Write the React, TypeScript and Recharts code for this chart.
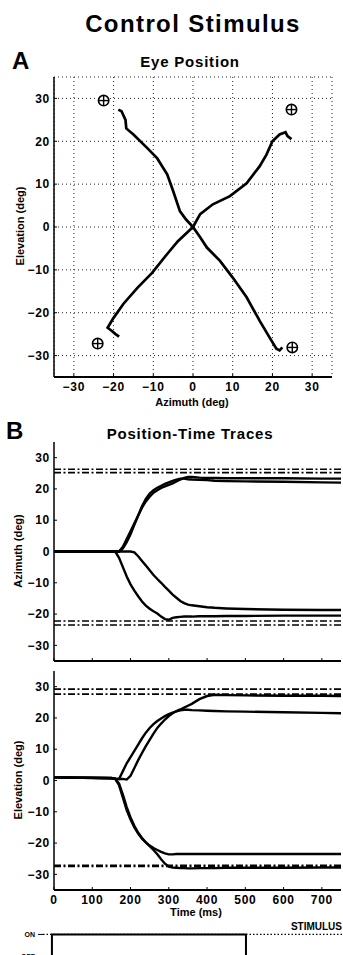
import React from "react";
import { ComposedChart, LineChart, Line, Scatter, XAxis, YAxis, CartesianGrid, ReferenceLine } from "recharts";

const FONT = '"Liberation Sans", Arial, Helvetica, sans-serif';

// Panel A: eye trajectories, azimuth (x) / elevation (y) in deg
const upLeftX = [0, -1.8, -3.3, -5, -6.5, -9, -11.5, -15, -16.8, -17, -18, -18.8];
const upLeftY = [0, 1.8, 3.7, 8.4, 12.3, 16, 18.4, 21.6, 23, 25, 27, 27.4];
const downRightX = [0, 1.8, 3.5, 6.8, 10, 13.5, 16.8, 19.3, 21, 21.8, 22.5];
const downRightY = [0, -2.4, -4.8, -7.9, -11.8, -16.4, -21.9, -25.8, -28.4, -28.8, -28.1];
const upRightX = [0, 1.8, 5, 9.3, 13.5, 16.8, 18.5, 20, 21.8, 23.3, 23.8, 24.8];
const upRightY = [0, 3, 5.3, 7.2, 10.2, 14.2, 16.9, 20, 21.6, 22.1, 21.2, 20.5];
const downLeftX = [0, -3.8, -6.5, -10.3, -14, -17.5, -20, -21.5, -20.5, -19.5, -18.6];
const downLeftY = [0, -3.3, -6.3, -10.7, -14.2, -17.9, -21.2, -23.5, -24.2, -25, -25.6];
const targetX = [-22.5, 24.8, -24, 25];
const targetY = [29.5, 27.4, -27.2, -28.1];
const posTicks = [-30, -20, -10, 0, 10, 20, 30];

// Panel B: position-time traces
const timeMs = [0, 150, 160, 170, 180, 190, 200, 210, 220, 230, 240, 250, 260, 270, 280, 290, 300, 310, 320, 330, 340, 350, 360, 380, 400, 420, 450, 500, 600, 700, 750];
const azUpA = [0, 0, 0, 0, 1.5, 4, 6.5, 9, 11.5, 14, 16, 17.5, 18.8, 19.6, 20.3, 20.8, 21.3, 21.8, 22.4, 23, 23.5, 23.8, 23.8, 23.6, 23.5, 23.5, 23.4, 23.4, 23.4, 23.3, 23.3];
const azUpB = [0, 0, 0, 0, 1, 3, 5.5, 8.5, 11.5, 14.5, 16.8, 18.5, 19.6, 20.4, 21, 21.6, 22.1, 22.6, 23, 23.3, 23.3, 23.1, 23, 22.9, 22.8, 22.6, 22.5, 22.4, 22.3, 22.1, 22];
const azDownA = [0, 0, 0, -2, -5, -8, -10.5, -12.5, -14.3, -16, -17.3, -18.3, -19.1, -19.8, -20.8, -21.6, -21.8, -21.2, -21, -20.9, -20.8, -20.8, -20.8, -20.7, -20.7, -20.7, -20.6, -20.6, -20.5, -20.5, -20.5];
const azDownB = [0, 0, 0, 0, 0, 0, 0, -0.3, -1.5, -3, -4.5, -6, -7.5, -8.8, -10, -11.3, -12.5, -13.8, -14.8, -15.8, -16.5, -17, -17.2, -17.5, -17.8, -18, -18.2, -18.4, -18.6, -18.7, -18.7];
const elUpA = [1, 0.8, 0.6, 0.5, 3, 5.5, 7.5, 9.5, 11.5, 13.5, 15.3, 16.8, 18, 19, 19.8, 20.6, 21.2, 21.7, 22.1, 22.4, 22.6, 22.6, 22.5, 22.4, 22.3, 22.2, 22.1, 22, 21.8, 21.6, 21.5];
const elUpB = [1, 0.8, 0.6, 0.5, 0.5, 0.3, 1.5, 4, 6.5, 8.8, 11, 13, 15, 16.8, 18.2, 19.5, 20.6, 21.5, 22.2, 22.7, 23.3, 23.9, 24.5, 26, 27, 27.4, 27.3, 27.2, 27.1, 27.1, 27];
const elDownA = [1, 0.7, 0.5, -1.5, -5.5, -9.5, -12.5, -15, -17, -18.6, -19.8, -20.8, -21.6, -22.2, -22.8, -23.3, -23.6, -23.6, -23.5, -23.5, -23.5, -23.5, -23.5, -23.5, -23.5, -23.5, -23.5, -23.5, -23.5, -23.5, -23.5];
const elDownB = [1, 0.7, 0.5, -1, -4.5, -8.5, -11.8, -14.5, -16.7, -18.4, -19.8, -21, -22.2, -23.6, -25.2, -26.6, -27.5, -27.8, -27.9, -28, -28, -28.1, -28.1, -28, -28, -28, -27.9, -27.9, -27.9, -27.8, -27.8];
const azTargets = [26.3, 25.2, -22.2, -23.5];
const elTargets = [29.2, 27.6, -27.1, -27.5];
const timeTicks = [0, 100, 200, 300, 400, 500, 600, 700];

// Stimulus on/off
const stimTime = [0, 0, 500, 500, 750];
const stimLevel = [0, 1, 1, 0, 0];

const pairs = (xs: number[], ys: number[]) => xs.map((x, i) => ({ x, y: ys[i] }));
const trajectories = [pairs(upLeftX, upLeftY), pairs(downRightX, downRightY), pairs(upRightX, upRightY), pairs(downLeftX, downLeftY)];
const targets = pairs(targetX, targetY);
const azRows = timeMs.map((t, i) => ({ t, a: azUpA[i], b: azUpB[i], c: azDownA[i], d: azDownB[i] }));
const elRows = timeMs.map((t, i) => ({ t, a: elUpA[i], b: elUpB[i], c: elDownA[i], d: elDownB[i] }));
const stimRows = stimTime.map((t, i) => ({ t, s: stimLevel[i] }));

const minus = (v: number) => String(v).replace("-", "\u2212");
const tickStyle = { fontSize: 12, fontWeight: 700, fill: "#000", fontFamily: FONT, letterSpacing: 0.7 };
const dashDot = "7 2.5 2 2.5";

const Target = (props: any) => {
  const { cx, cy } = props;
  return (
    <g>
      <circle cx={cx} cy={cy} r={5.2} fill="#fff" stroke="#000" strokeWidth={1.6} />
      <line x1={cx - 5} x2={cx + 5} y1={cy} y2={cy} stroke="#000" strokeWidth={1.4} />
      <line x1={cx} x2={cx} y1={cy - 5} y2={cy + 5} stroke="#000" strokeWidth={1.4} />
    </g>
  );
};

const Txt = ({ x, y, size, children, rotate, align, spacing }: any) => (
  <div
    style={{
      position: "absolute",
      left: x,
      top: y,
      fontSize: size,
      fontWeight: 700,
      lineHeight: 1,
      letterSpacing: spacing || 0,
      whiteSpace: "nowrap",
      transform: `translate(${align === "right" ? "-100%" : align === "left" ? "0" : "-50%"}, -50%)${rotate ? " rotate(-90deg)" : ""}`,
    }}
  >
    {children}
  </div>
);

const App = () => {
  return (
    <div style={{ position: "absolute", left: 0, top: 0, width: 343, height: 955, overflow: "hidden", background: "#fff", fontFamily: FONT, color: "#000" }}>
      <Txt x={193} y={24} size={24} spacing={1.4}>Control Stimulus</Txt>
      <Txt x={12} y={61} size={24} align="left">A</Txt>
      <Txt x={190} y={61} size={15} spacing={0.8}>Eye Position</Txt>

      <div style={{ position: "absolute", left: 0, top: 72 }}>
        <ComposedChart width={343} height={335} margin={{ top: 5, right: 11, bottom: 0, left: 0 }}>
          <CartesianGrid stroke="#222" strokeDasharray="1 3" />
          <XAxis type="number" dataKey="x" domain={[-35, 35]} ticks={posTicks} tickFormatter={minus} height={30}
            tickSize={-3} tickMargin={8} tick={tickStyle} axisLine={{ stroke: "#000", strokeWidth: 2 }} tickLine={{ stroke: "#000" }} allowDataOverflow />
          <XAxis xAxisId="top" orientation="top" type="number" domain={[-35, 35]} ticks={posTicks} height={0}
            tickSize={-3} tickFormatter={() => ""} axisLine={{ stroke: "#000", strokeWidth: 1.5 }} tickLine={{ stroke: "#000" }} />
          <YAxis type="number" dataKey="y" domain={[-35, 35]} ticks={posTicks} tickFormatter={minus} width={54}
            tickSize={-3} tickMargin={7} tick={tickStyle} axisLine={{ stroke: "#000", strokeWidth: 1.5 }} tickLine={{ stroke: "#000" }} allowDataOverflow />
          <YAxis yAxisId="right" orientation="right" type="number" domain={[-35, 35]} ticks={posTicks} width={0}
            tickSize={-3} tickFormatter={() => ""} axisLine={{ stroke: "#000", strokeWidth: 2 }} tickLine={{ stroke: "#000" }} />
          {trajectories.map((tr, i) => (
            <Line key={i} data={tr} dataKey="y" type="linear" stroke="#000" strokeWidth={2.7} dot={false} isAnimationActive={false} />
          ))}
          <Scatter data={targets} shape={<Target />} isAnimationActive={false} />
        </ComposedChart>
      </div>
      <Txt x={192} y={402} size={11}>Azimuth (deg)</Txt>
      <Txt x={20} y={226} size={11} rotate>Elevation (deg)</Txt>

      <Txt x={6} y={431} size={24} align="left">B</Txt>
      <Txt x={190} y={433} size={15} spacing={0.8}>Position-Time Traces</Txt>

      <div style={{ position: "absolute", left: 0, top: 437 }}>
        <LineChart width={343} height={229} data={azRows} margin={{ top: 5, right: 2, bottom: 0, left: 0 }}>
          <XAxis type="number" dataKey="t" domain={[0, 750]} ticks={timeTicks} height={5} tickSize={-3} tickFormatter={() => ""}
            axisLine={{ stroke: "#000", strokeWidth: 2 }} tickLine={{ stroke: "#000" }} />
          <YAxis type="number" domain={[-35, 35]} ticks={posTicks} tickFormatter={minus} width={54} tickSize={-3} tickMargin={7}
            tick={tickStyle} axisLine={{ stroke: "#000", strokeWidth: 1.5 }} tickLine={{ stroke: "#000" }} />
          {azTargets.map((v) => (
            <ReferenceLine key={v} y={v} stroke="#000" strokeWidth={1.6} strokeDasharray={dashDot} />
          ))}
          {["a", "b", "c", "d"].map((k) => (
            <Line key={k} dataKey={k} type="linear" stroke="#000" strokeWidth={2.4} dot={false} isAnimationActive={false} />
          ))}
        </LineChart>
      </div>
      <Txt x={18} y={551} size={11} rotate>Azimuth (deg)</Txt>

      <div style={{ position: "absolute", left: 0, top: 666 }}>
        <LineChart width={343} height={249} data={elRows} margin={{ top: 5, right: 2, bottom: 0, left: 0 }}>
          <XAxis type="number" dataKey="t" domain={[0, 750]} ticks={timeTicks} height={25} tickSize={-3} tickMargin={8}
            tick={tickStyle} axisLine={{ stroke: "#000", strokeWidth: 2 }} tickLine={{ stroke: "#000" }} />
          <YAxis type="number" domain={[-35, 35]} ticks={posTicks} tickFormatter={minus} width={54} tickSize={-3} tickMargin={7}
            tick={tickStyle} axisLine={{ stroke: "#000", strokeWidth: 1.5 }} tickLine={{ stroke: "#000" }} />
          {elTargets.map((v) => (
            <ReferenceLine key={v} y={v} stroke="#000" strokeWidth={1.6} strokeDasharray={dashDot} />
          ))}
          {["a", "b", "c", "d"].map((k) => (
            <Line key={k} dataKey={k} type="linear" stroke="#000" strokeWidth={2.4} dot={false} isAnimationActive={false} />
          ))}
        </LineChart>
      </div>
      <Txt x={18} y={780} size={11} rotate>Elevation (deg)</Txt>
      <Txt x={196} y={912} size={11}>Time (ms)</Txt>

      <Txt x={342} y={927} size={10} align="right">STIMULUS</Txt>
      <div style={{ position: "absolute", left: 0, top: 929 }}>
        <LineChart width={343} height={33} data={stimRows} margin={{ top: 1, right: 0, bottom: 1, left: 0 }}>
          <XAxis type="number" dataKey="t" domain={[-23, 750]} hide />
          <YAxis type="number" domain={[-0.2, 1.2]} ticks={[0, 1]} tickFormatter={(v: number) => (v === 1 ? "ON" : "OFF")} width={43}
            tickSize={5} tickMargin={3} tick={{ fontSize: 7, fontWeight: 700, fill: "#000", fontFamily: FONT }} axisLine={false} tickLine={{ stroke: "#000" }} />
          <ReferenceLine y={1} stroke="#000" strokeWidth={1.2} strokeDasharray="1.5 2" />
          <Line dataKey="s" type="linear" stroke="#000" strokeWidth={2} dot={false} isAnimationActive={false} />
        </LineChart>
      </div>
    </div>
  );
};

export default App;
